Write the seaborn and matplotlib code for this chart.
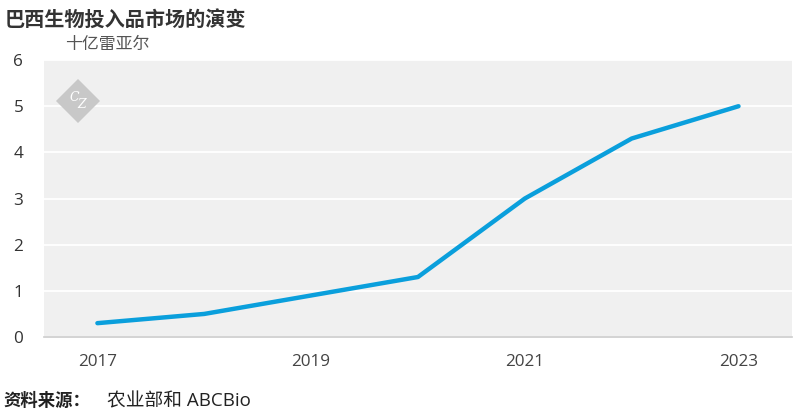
import matplotlib
matplotlib.use("Agg")
import matplotlib.pyplot as plt
import matplotlib.patches as mpatches
import seaborn as sns
import pandas as pd

years = [2017, 2018, 2019, 2020, 2021, 2022, 2023]
market = [0.3, 0.5, 0.9, 1.3, 3.0, 4.3, 5.0]
year_labels = ["2017", "", "2019", "", "2021", "", "2023"]

sns.set_theme(style="white")
plt.rcParams['font.family'] = ['Open Sans', 'Noto Sans CJK SC', 'DejaVu Sans']

df = pd.DataFrame({"pos": range(len(years)), "value": market})

fig = plt.figure(figsize=(8.04, 4.2), dpi=100)
ax = fig.add_axes([0.0547, 0.1976, 0.9303, 0.6594])
ax.set_facecolor("#f0f0f0")

sns.lineplot(data=df, x="pos", y="value", ax=ax, color="#0a9fdc", linewidth=3.2)

ax.set_xlim(-0.5, len(years) - 0.5)
ax.set_ylim(0, 6)
ax.set_yticks(range(0, 7))
ax.grid(axis="y", color="white", linewidth=1.3)
ax.set_axisbelow(True)

ax.set_xticks(range(len(years)))
ax.set_xticklabels(year_labels)
ax.set_xticks([i - 0.5 for i in range(len(years) + 1)], minor=True)
ax.tick_params(axis="x", which="major", length=0, pad=12, labelsize=12.3, labelcolor="#444444")
ax.tick_params(axis="x", which="minor", length=6, color="#bbbbbb", width=1)
ax.tick_params(axis="y", length=0, pad=15, labelsize=12.3, labelcolor="#333333")

for s in ["top", "right", "left"]:
    ax.spines[s].set_visible(False)
ax.spines["bottom"].set_color("#cccccc")
ax.spines["bottom"].set_linewidth(1.2)
ax.set_xlabel("")
ax.set_ylabel("")

fig.text(0.006, 0.955, "巴西生物投入品市场的演变", fontsize=14.5, fontweight="bold",
         color="#333333", va="center", family=['Noto Sans CJK SC'])
fig.text(0.081, 0.895, "十亿雷亚尔", fontsize=12.2, color="#555555", va="center",
         family=['Noto Sans CJK SC'])
fig.text(0.004, 0.045, "资料来源：", fontsize=12.5, fontweight="bold", color="#222222",
         va="center", family=['Noto Sans CJK SC'])
fig.text(0.133, 0.045, "农业部和 ABCBio", fontsize=13.5, color="#222222", va="center",
         family=['Open Sans', 'Noto Sans CJK SC'])

# logo
diamond = mpatches.RegularPolygon((0.78, 3.19), numVertices=4, radius=0.22,
                                  transform=fig.dpi_scale_trans, facecolor="#c8c8c8",
                                  edgecolor="none", zorder=5)
fig.add_artist(diamond)
fig.text(0.092, 0.768, "C", fontsize=9, color="white", ha="center", va="center",
         family="DejaVu Serif", style="italic", zorder=6)
fig.text(0.102, 0.752, "Z", fontsize=9, color="white", ha="center", va="center",
         family="DejaVu Serif", style="italic", zorder=6)

fig.savefig("out.png", dpi=100)
